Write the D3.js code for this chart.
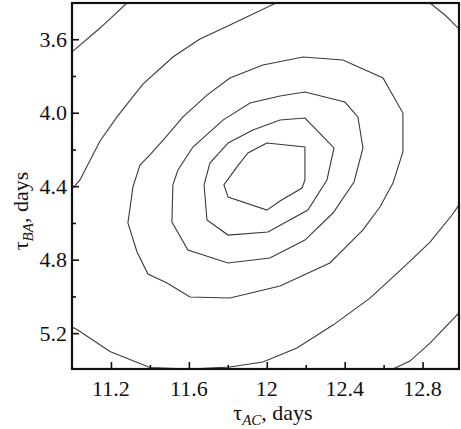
<!doctype html>
<meta charset="utf-8">
<style>
body { margin: 0; background: #fff; }
.contour { fill: none; stroke: #3a3a3a; stroke-width: 1.1; }
text { font-family: "Liberation Serif", "Times New Roman", serif; fill: #111; }
</style>
<html lang="en">
<body>
<script src="https://d3js.org/d3.v7.min.js"></script>
<script>

// contour lines, points are [tauAC, tauBA] in days
var contourA = [[11.00, 3.669], [11.144, 3.539], [11.282, 3.403]];
var contourB = [[11.00, 4.415], [11.041, 4.366], [11.144, 4.154], [11.231, 4.023], [11.364, 3.844],
  [11.518, 3.697], [11.657, 3.599], [11.811, 3.522], [12.047, 3.403]];
var contourC = [[12.838, 3.403], [12.915, 3.468], [12.987, 3.544]];
var contourD = [[11.00, 5.167], [11.026, 5.180], [11.195, 5.300], [11.400, 5.387], [11.606, 5.395],
  [11.811, 5.384], [11.980, 5.357], [12.155, 5.281], [12.340, 5.156], [12.530, 5.009],
  [12.699, 4.845], [12.838, 4.704], [12.951, 4.557], [12.987, 4.502]];
var contourF = [[12.987, 5.090], [12.838, 5.254], [12.735, 5.352], [12.648, 5.395]];

var ring1 = [[11.477, 4.138], [11.400, 4.230], [11.349, 4.285], [11.313, 4.404], [11.287, 4.600],
  [11.334, 4.758], [11.390, 4.878], [11.488, 4.927], [11.606, 5.003], [11.811, 5.009],
  [12.068, 4.943], [12.324, 4.818], [12.494, 4.638], [12.581, 4.513], [12.648, 4.383],
  [12.699, 4.214], [12.699, 4.002], [12.597, 3.811], [12.391, 3.713], [12.186, 3.697],
  [11.980, 3.740], [11.811, 3.811], [11.693, 3.904], [11.570, 4.023], [11.477, 4.138]];
var ring2 = [[11.518, 4.393], [11.513, 4.595], [11.595, 4.747], [11.801, 4.818], [12.016, 4.791],
  [12.196, 4.693], [12.340, 4.546], [12.448, 4.377], [12.494, 4.192], [12.468, 4.023],
  [12.401, 3.942], [12.196, 3.887], [12.068, 3.909], [11.914, 3.947], [11.775, 4.040],
  [11.621, 4.187], [11.544, 4.312], [11.518, 4.393]];
var ring3 = [[11.801, 4.165], [11.708, 4.274], [11.678, 4.393], [11.693, 4.584], [11.801, 4.666],
  [12.006, 4.649], [12.211, 4.530], [12.309, 4.366], [12.345, 4.192], [12.196, 4.029],
  [12.068, 4.040], [11.929, 4.094], [11.801, 4.165]];
var ring4 = [[12.001, 4.165], [12.196, 4.187], [12.196, 4.366], [12.181, 4.410], [12.068, 4.481],
  [12.001, 4.530], [11.801, 4.459], [11.780, 4.393], [11.847, 4.295], [11.903, 4.219],
  [12.001, 4.165]];

var xTicks = [11.2, 11.6, 12.0, 12.4, 12.8];
var xTickLabels = ["11.2", "11.6", "12", "12.4", "12.8"];
var xMinorTicks = [11.4, 11.8, 12.2, 12.6];
var yTicks = [3.6, 4.0, 4.4, 4.8, 5.2];
var yTickLabels = ["3.6", "4.0", "4.4", "4.8", "5.2"];
var yMinorTicks = [3.8, 4.2, 4.6, 5.0];

var W = 461, H = 429;
var pLeft = 72, pRight = 459, pTop = 3, pBottom = 369;

var x = d3.scaleLinear().domain([11.0, 12.987]).range([pLeft, pRight]);
var y = d3.scaleLinear().domain([3.4, 5.4]).range([2.5, 369.9]);

var svg = d3.select("body").append("svg")
  .attr("width", W)
  .attr("height", H);

svg.append("defs").append("clipPath").attr("id", "plotclip")
  .append("rect")
  .attr("x", pLeft).attr("y", pTop)
  .attr("width", pRight - pLeft).attr("height", pBottom - pTop);

var line = d3.line()
  .x(function(d) { return x(d[0]); })
  .y(function(d) { return y(d[1]); });

var lines = [contourA, contourB, contourC, contourD, contourF, ring1, ring2, ring3, ring4];

svg.append("g")
  .attr("clip-path", "url(#plotclip)")
  .selectAll("path")
  .data(lines)
  .enter().append("path")
  .attr("class", "contour")
  .attr("d", line);

// ticks point into the plot, labels drawn separately below
function tickLines(g) {
  g.select(".domain").remove();
  g.selectAll("text").remove();
  g.selectAll("line").attr("stroke", "#111").attr("stroke-width", 1.6);
}

svg.append("g").attr("transform", "translate(0," + pBottom + ")")
  .call(d3.axisBottom(x).tickValues(xTicks).tickSizeInner(-7).tickSizeOuter(0))
  .call(tickLines);
svg.append("g").attr("transform", "translate(0," + pBottom + ")")
  .call(d3.axisBottom(x).tickValues(xMinorTicks).tickSizeInner(-4).tickSizeOuter(0))
  .call(tickLines);
svg.append("g").attr("transform", "translate(" + pLeft + ",0)")
  .call(d3.axisLeft(y).tickValues(yTicks).tickSizeInner(-7).tickSizeOuter(0))
  .call(tickLines);
svg.append("g").attr("transform", "translate(" + pLeft + ",0)")
  .call(d3.axisLeft(y).tickValues(yMinorTicks).tickSizeInner(-4).tickSizeOuter(0))
  .call(tickLines);

svg.selectAll(".xlab")
  .data(xTicks)
  .enter().append("text")
  .attr("class", "xlab")
  .attr("x", function(d) { return x(d); })
  .attr("y", 396)
  .attr("text-anchor", "middle")
  .style("font-size", "22px")
  .text(function(d, i) { return xTickLabels[i]; });

svg.selectAll(".ylab")
  .data(yTicks)
  .enter().append("text")
  .attr("class", "ylab")
  .attr("x", 67)
  .attr("y", function(d) { return y(d); })
  .attr("dy", "0.34em")
  .attr("text-anchor", "end")
  .style("font-size", "22px")
  .text(function(d, i) { return yTickLabels[i]; });

// frame
svg.append("rect")
  .attr("x", pLeft).attr("y", pTop)
  .attr("width", pRight - pLeft).attr("height", pBottom - pTop)
  .attr("fill", "none").attr("stroke", "#111").attr("stroke-width", 2.2);

// axis titles
var xl = svg.append("text")
  .style("font-size", "22px")
  .attr("x", 273).attr("y", 420).attr("text-anchor", "middle");
xl.append("tspan").text("\u03c4");
xl.append("tspan").style("font-style", "italic").style("font-size", "15px").attr("dy", 5).text("AC");
xl.append("tspan").attr("dy", -5).text(", days");

var yl = svg.append("text")
  .style("font-size", "22px")
  .attr("transform", "translate(28,211) rotate(-90)").attr("text-anchor", "middle");
yl.append("tspan").text("\u03c4");
yl.append("tspan").style("font-style", "italic").style("font-size", "15px").attr("dy", 5).text("BA");
yl.append("tspan").attr("dy", -5).text(", days");

</script>
</body>
</html>
